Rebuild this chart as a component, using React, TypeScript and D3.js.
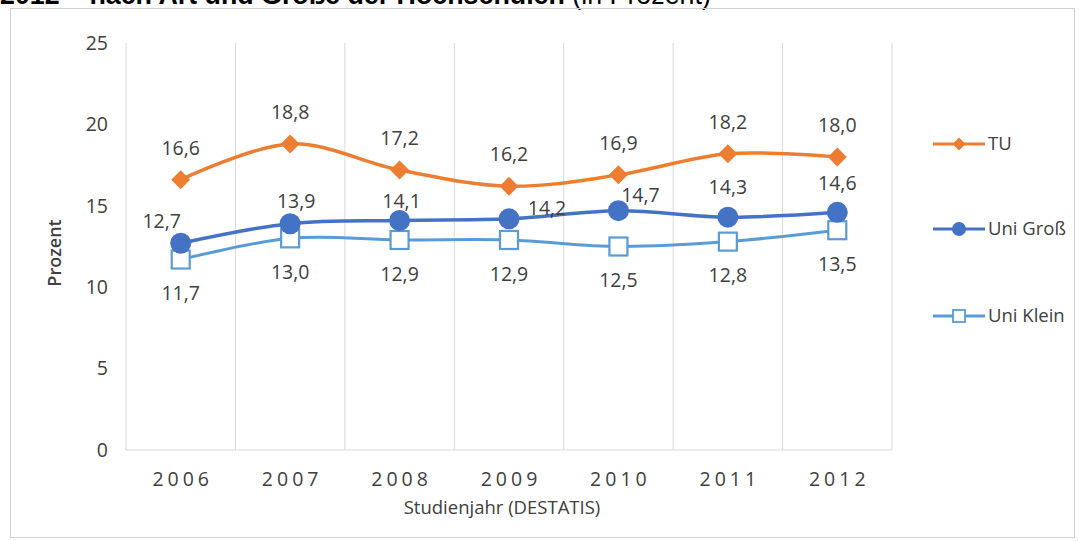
import React from "react";
import * as d3 from "d3";

const years = ["2006", "2007", "2008", "2009", "2010", "2011", "2012"];
const tu = [16.6, 18.8, 17.2, 16.2, 16.9, 18.2, 18.0];
const uniGross = [12.7, 13.9, 14.1, 14.2, 14.7, 14.3, 14.6];
const uniKlein = [11.7, 13.0, 12.9, 12.9, 12.5, 12.8, 13.5];
const yTicks = [0, 5, 10, 15, 20, 25];
const seriesNames = ["TU", "Uni Groß", "Uni Klein"];

// label offsets for Uni Groß (manual placement in original)
const grossLabelDx = [-19, 6, 2, 38, 22, 0, 0];
const grossLabelDy = [-22, -23, -19, -11, -16, -30, -29];

const W = 1079;
const H = 541;
const FONT = "'Open Sans', 'Noto Sans', sans-serif";
const TXT = "#404040";
const C_TU = "#ED7D31";
const C_GR = "#4472C4";
const C_KL = "#5B9BD5";

const fmt = (v: number) => v.toFixed(1).replace(".", ",");

export default function App() {
  const x = d3.scaleBand<string>().domain(years).range([126, 892]).paddingInner(0).paddingOuter(0);
  const y = d3.scaleLinear().domain([0, 25]).range([450, 43]);
  const cx = (i: number) => (x(years[i]) as number) + x.bandwidth() / 2;
  const line = d3
    .line<number>()
    .x((_, i) => cx(i))
    .y((d) => y(d))
    .curve(d3.curveCardinal.tension(0));

  const diamond = (px: number, py: number, r: number) =>
    `M${px},${py - r}L${px + r},${py}L${px},${py + r}L${px - r},${py}Z`;

  const edges = years.map((yr) => x(yr) as number).concat([892]);
  const fs = 19.5;

  return (
    <div style={{ position: "absolute", left: 0, top: 0 }}>
      <svg width={W} height={H} style={{ display: "block", background: "#fff" }}>
        <text x={0} y={4} fontFamily="'Liberation Sans', Arial, sans-serif" fontSize={26.8} fill="#000">
          <tspan fontWeight="bold">2012 – nach Art und Größe der Hochschulen</tspan>
          <tspan> (in Prozent)</tspan>
        </text>
        <rect x={10.5} y={8.5} width={1064} height={529} fill="none" stroke="#d0d0d0" strokeWidth={1} />
        {/* vertical gridlines */}
        {edges.map((ex, i) => (
          <line key={i} x1={ex} x2={ex} y1={y(25)} y2={y(0)} stroke="#d9d9d9" strokeWidth={1} />
        ))}
        <line x1={126} x2={892} y1={y(0)} y2={y(0)} stroke="#d9d9d9" strokeWidth={1} />
        {/* y ticks */}
        {yTicks.map((t) => (
          <text key={t} x={108} y={y(t)} dy="0.35em" textAnchor="end" fontFamily={FONT} fontSize={fs} fill={TXT}>
            {t}
          </text>
        ))}
        {/* x ticks */}
        {years.map((yr, i) => (
          <text key={yr} x={cx(i) + 2} y={479} dy="0.35em" textAnchor="middle" fontFamily={FONT} fontSize={fs} letterSpacing={4} fill={TXT}>
            {yr}
          </text>
        ))}
        <text x={502} y={508} dy="0.35em" textAnchor="middle" fontFamily={FONT} fontSize={18.5} fill={TXT}>
          Studienjahr (DESTATIS)
        </text>
        <text transform={`translate(55,253) rotate(-90)`} dy="0.35em" textAnchor="middle" fontFamily={FONT} fontSize={18} fontWeight={600} fill={TXT}>
          Prozent
        </text>

        {/* TU */}
        <path d={line(tu) || ""} fill="none" stroke={C_TU} strokeWidth={3.5} />
        {tu.map((v, i) => (
          <path key={i} d={diamond(cx(i), y(v), 9.5)} fill={C_TU} />
        ))}
        {/* Uni Klein */}
        <path d={line(uniKlein) || ""} fill="none" stroke={C_KL} strokeWidth={3} />
        {uniKlein.map((v, i) => (
          <rect key={i} x={cx(i) - 9} y={y(v) - 9} width={18} height={18} fill="#fff" stroke={C_KL} strokeWidth={2.2} />
        ))}
        {/* Uni Groß */}
        <path d={line(uniGross) || ""} fill="none" stroke={C_GR} strokeWidth={3.5} />
        {uniGross.map((v, i) => (
          <circle key={i} cx={cx(i)} cy={y(v)} r={10.5} fill={C_GR} />
        ))}

        {/* data labels */}
        {tu.map((v, i) => (
          <text key={"t" + i} x={cx(i)} y={y(v) - 32} dy="0.35em" textAnchor="middle" fontFamily={FONT} fontSize={fs} fill={TXT}>
            {fmt(v)}
          </text>
        ))}
        {uniGross.map((v, i) => (
          <text key={"g" + i} x={cx(i) + grossLabelDx[i]} y={y(v) + grossLabelDy[i]} dy="0.35em" textAnchor="middle" fontFamily={FONT} fontSize={fs} fill={TXT}>
            {fmt(v)}
          </text>
        ))}
        {uniKlein.map((v, i) => (
          <text key={"k" + i} x={cx(i)} y={y(v) + 34} dy="0.35em" textAnchor="middle" fontFamily={FONT} fontSize={fs} fill={TXT}>
            {fmt(v)}
          </text>
        ))}

        {/* legend */}
        {seriesNames.map((name, i) => {
          const ly = [144, 229, 316][i];
          const col = [C_TU, C_GR, C_KL][i];
          const mx = 959;
          return (
            <g key={name}>
              <line x1={933} x2={985} y1={ly} y2={ly} stroke={col} strokeWidth={3} />
              {i === 0 && <path d={diamond(mx, ly, 6.5)} fill={col} />}
              {i === 1 && <circle cx={mx} cy={ly} r={7} fill={col} />}
              {i === 2 && <rect x={mx - 6} y={ly - 6} width={12} height={12} fill="#fff" stroke={col} strokeWidth={1.8} />}
              <text x={988} y={ly} dy="0.35em" fontFamily={FONT} fontSize={18.5} fill={TXT}>
                {name}
              </text>
            </g>
          );
        })}
      </svg>
    </div>
  );
}
